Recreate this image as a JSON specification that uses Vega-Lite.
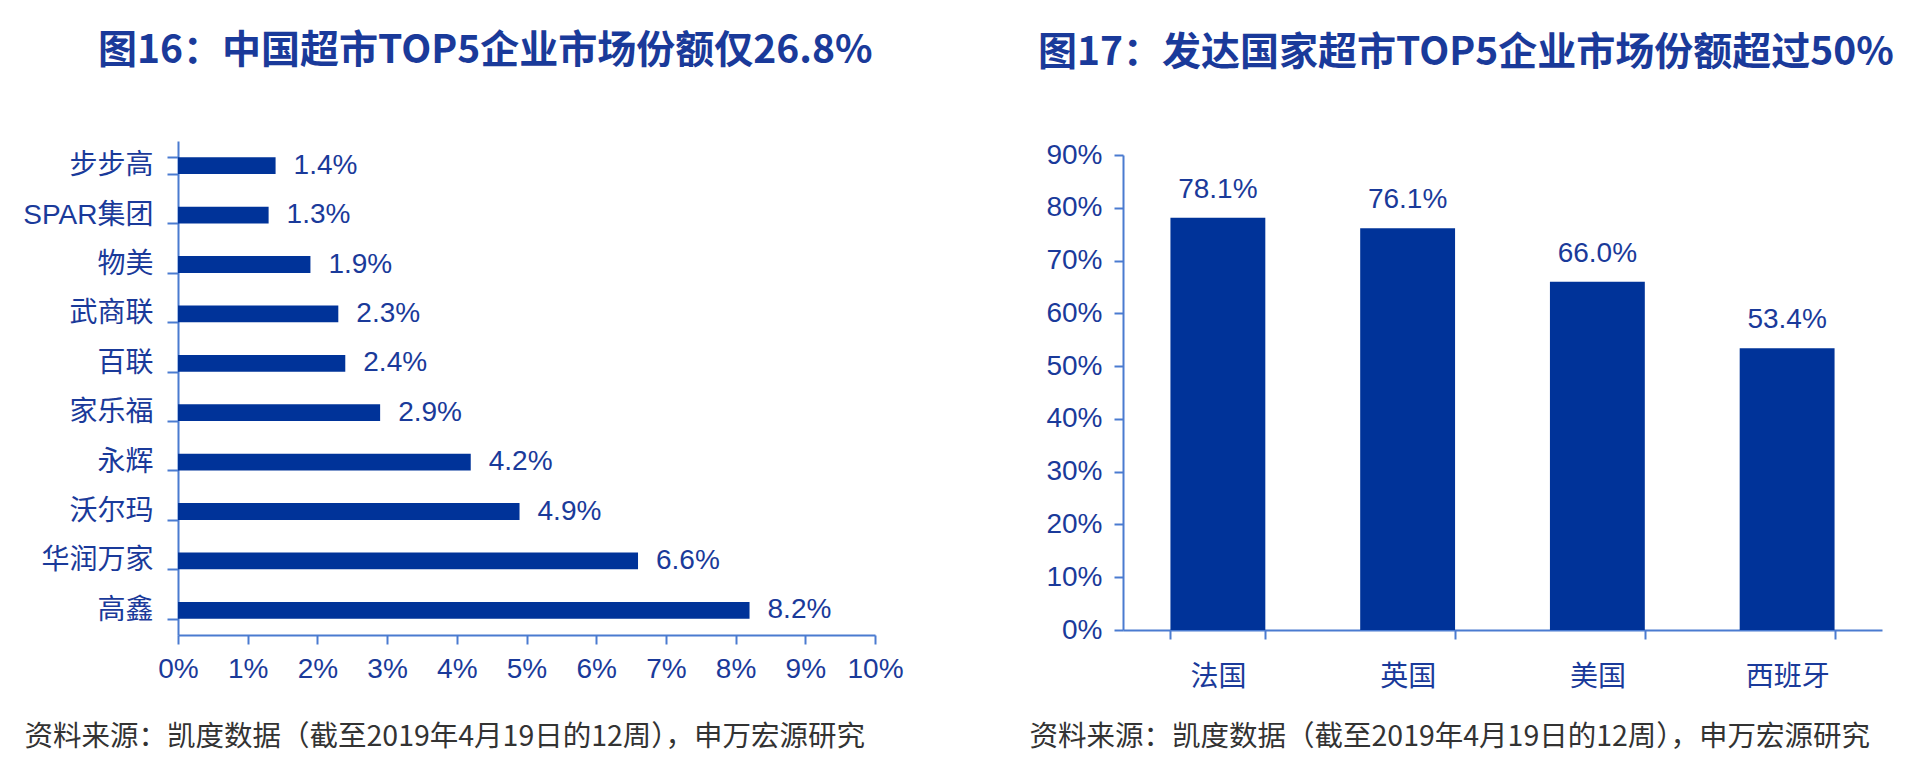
{
  "$schema": "https://vega.github.io/schema/vega-lite/v6.json",
  "background": "white",
  "padding": {"left": 22, "top": 32, "right": 0, "bottom": 0},
  "spacing": 125,
  "config": {
    "view": {"stroke": null},
    "font": "Liberation Sans, Noto Sans CJK SC",
    "axis": {
      "grid": false,
      "domainColor": "#4A7BD0",
      "domainWidth": 2,
      "tickColor": "#4A7BD0",
      "tickWidth": 2,
      "labelColor": "#1A3A9A",
      "labelFontSize": 28,
      "labelFlush": false,
      "labelFont": "Liberation Sans, Noto Sans CJK SC",
      "titleFont": "Noto Sans CJK SC",
      "titleFontWeight": "normal",
      "titleFontSize": 28.5,
      "titleColor": "#333333"
    },
    "title": {
      "font": "Noto Sans CJK SC",
      "fontWeight": "bold",
      "fontSize": 39,
      "color": "#1A3A9A",
      "anchor": "start",
      "frame": "group"
    }
  },
  "hconcat": [
    {
      "width": 697,
      "height": 494,
      "title": {"text": "图16：中国超市TOP5企业市场份额仅26.8%", "dx": -80, "offset": 56},
      "data": {
        "values": [
          {"company": "步步高", "share": 0.014},
          {"company": "SPAR集团", "share": 0.013},
          {"company": "物美", "share": 0.019},
          {"company": "武商联", "share": 0.023},
          {"company": "百联", "share": 0.024},
          {"company": "家乐福", "share": 0.029},
          {"company": "永辉", "share": 0.042},
          {"company": "沃尔玛", "share": 0.049},
          {"company": "华润万家", "share": 0.066},
          {"company": "高鑫", "share": 0.082}
        ]
      },
      "encoding": {
        "y": {
          "field": "company",
          "type": "nominal",
          "sort": null,
          "scale": {"paddingInner": 0.66, "paddingOuter": 0.33},
          "axis": {
            "title": null,
            "tickBand": "extent",
            "tickSize": 11,
            "labelPadding": 14
          }
        },
        "x": {
          "field": "share",
          "type": "quantitative",
          "scale": {"domain": [0, 0.1]},
          "axis": {
            "values": [0, 0.01, 0.02, 0.03, 0.04, 0.05, 0.06, 0.07, 0.08, 0.09, 0.1],
            "format": ".0%",
            "tickSize": 9,
            "labelPadding": 11,
            "title": "资料来源：凯度数据（截至2019年4月19日的12周），申万宏源研究",
            "titleAnchor": "start",
            "titleAlign": "left",
            "titleBaseline": "middle",
            "titleX": -154,
            "titleY": 101
          }
        }
      },
      "layer": [
        {"mark": {"type": "bar", "color": "#003399"}},
        {
          "mark": {"type": "text", "align": "left", "baseline": "middle", "dx": 18, "fontSize": 28, "color": "#1A3A9A"},
          "encoding": {"text": {"field": "share", "format": ".1%"}}
        }
      ]
    },
    {
      "width": 759,
      "height": 494,
      "title": {"text": "图17：发达国家超市TOP5企业市场份额超过50%", "dx": -85, "offset": 68},
      "data": {
        "values": [
          {"country": "法国", "share": 0.781},
          {"country": "英国", "share": 0.761},
          {"country": "美国", "share": 0.66},
          {"country": "西班牙", "share": 0.534}
        ]
      },
      "encoding": {
        "x": {
          "field": "country",
          "type": "nominal",
          "sort": null,
          "scale": {"paddingInner": 0.5, "paddingOuter": 0.25},
          "axis": {
            "labelAngle": 0,
            "offset": -5,
            "tickBand": "extent",
            "tickSize": 9,
            "labelPadding": 24,
            "title": "资料来源：凯度数据（截至2019年4月19日的12周），申万宏源研究",
            "titleAnchor": "start",
            "titleAlign": "left",
            "titleBaseline": "middle",
            "titleX": -94,
            "titleY": 106
          }
        },
        "y": {
          "field": "share",
          "type": "quantitative",
          "scale": {"domain": [0, 0.9], "range": [489, 14]},
          "axis": {
            "title": null,
            "values": [0, 0.1, 0.2, 0.3, 0.4, 0.5, 0.6, 0.7, 0.8, 0.9],
            "format": ".0%",
            "tickSize": 9,
            "labelPadding": 12
          }
        }
      },
      "layer": [
        {"mark": {"type": "bar", "color": "#003399"}},
        {
          "mark": {"type": "text", "baseline": "bottom", "dy": -14, "fontSize": 28, "color": "#1A3A9A"},
          "encoding": {"text": {"field": "share", "format": ".1%"}}
        }
      ]
    }
  ]
}
